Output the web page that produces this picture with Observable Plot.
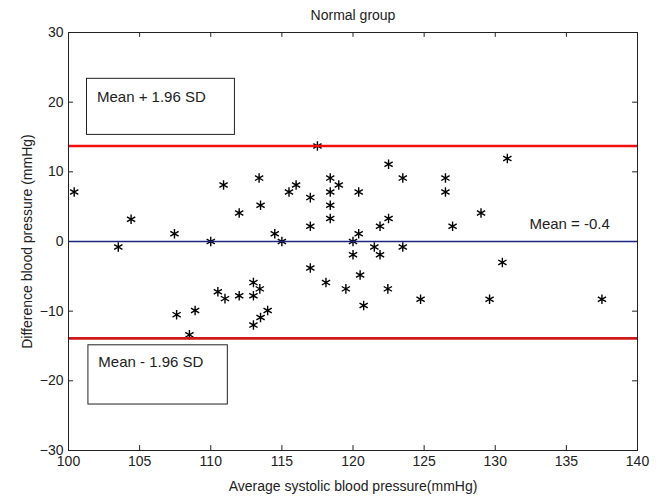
<!DOCTYPE html>
<html><head><meta charset="utf-8">
<script src="https://cdn.jsdelivr.net/npm/d3@7"></script>
<script src="https://cdn.jsdelivr.net/npm/@observablehq/plot@0.6"></script>
<style>body{margin:0;background:#fff;font-family:"Liberation Sans",Arial,sans-serif}</style>
</head><body><div id="chart"></div>
<script>
// Average systolic blood pressure (mmHg)
const avgSBP = [100.4,103.5,104.4,107.45,107.6,108.5,108.9,110,110.5,110.9,111,112,112,113,113,113,113.4,113.5,113.45,113.5,114,114.5,115,115.5,116,117,117,117,117.5,118.1,118.4,118.4,118.4,118.4,119,119.5,120,120,120.4,120.4,120.5,120.75,121.5,121.9,121.9,122.5,122.5,122.45,123.5,123.5,124.75,126.5,126.5,127,129,129.6,130.5,130.85,137.5];
// Difference blood pressure (mmHg)
const diffBP = [7.1,-0.8,3.2,1.1,-10.5,-13.4,-9.9,0,-7.2,8.1,-8.2,4.1,-7.8,-5.9,-7.8,-12,9.1,5.2,-6.8,-10.9,-9.9,1.1,0,7.1,8.1,6.3,2.2,-3.8,13.7,-5.9,9.1,7.1,5.2,3.3,8.1,-6.8,0,-1.9,7.1,1.1,-4.8,-9.2,-0.8,2.2,-1.9,11.1,3.3,-6.8,9.1,-0.8,-8.3,9.1,7.1,2.2,4.1,-8.3,-3,11.9,-8.3];
const xTicks = [100,105,110,115,120,125,130,135,140];
const yTicks = [-30,-20,-10,0,10,20,30];
const upperLimit = 13.7;
const lowerLimit = -13.9;
const meanLine = 0;
const titleText = "Normal group";
const xLabel = "Average systolic blood pressure(mmHg)";
const yLabel = "Difference blood pressure (mmHg)";
const upperLabel = {text: "Mean + 1.96 SD", x: 102.0, y: 20.7, x1: 101.3, x2: 111.7, y1: 15.3, y2: 23.35};
const lowerLabel = {text: "Mean - 1.96 SD", x: 102.1, y: -17.3, x1: 101.4, x2: 111.2, y1: -23.4, y2: -14.9};
const meanLabel = {text: "Mean = -0.4", x: 132.4, y: 2.5};

const points = avgSBP.map((a, i) => ({a, d: diffBP[i]}));
const ink = "#222";

const chart = Plot.plot({
  width: 662, height: 496,
  marginLeft: 68, marginRight: 25, marginTop: 32, marginBottom: 46,
  style: {fontFamily: "Liberation Sans, Arial, sans-serif", background: "#fff", color: ink},
  x: {domain: [100, 140]},
  y: {domain: [-30, 30]},
  marks: [
    Plot.axisX(xTicks, {tickSize: 0, tickPadding: 6, fontSize: 14, label: xLabel, labelAnchor: "center", labelOffset: 40, labelArrow: "none"}),
    Plot.axisY(yTicks, {tickSize: 0, tickPadding: 5, fontSize: 14, label: yLabel, labelAnchor: "center", labelOffset: 46, labelArrow: "none"}),
    Plot.ruleX(xTicks, {x: d => d, y1: -30, y2: -29.3, stroke: ink}),
    Plot.ruleX(xTicks, {x: d => d, y1: 30, y2: 29.3, stroke: ink}),
    Plot.ruleY(yTicks, {y: d => d, x1: 100, x2: 100.35, stroke: ink}),
    Plot.ruleY(yTicks, {y: d => d, x1: 140, x2: 139.65, stroke: ink}),
    Plot.rect([upperLabel, lowerLabel], {x1: "x1", x2: "x2", y1: "y1", y2: "y2", fill: "white", stroke: ink, strokeWidth: 1}),
    Plot.text([upperLabel, lowerLabel], {x: "x", y: "y", text: "text", textAnchor: "start", fontSize: 15, fill: ink}),
    Plot.text([meanLabel], {x: "x", y: "y", text: "text", textAnchor: "start", fontSize: 15, fill: ink, letterSpacing: "0.5px"}),
    Plot.dot(points, {x: "a", y: "d", symbol: "asterisk", r: 4.5, stroke: "black", strokeWidth: 1.4}),
    Plot.ruleY([upperLimit], {stroke: "#f01010", strokeWidth: 2.6}),
    Plot.ruleY([lowerLimit], {stroke: "#cc1a1a", strokeWidth: 2.6}),
    Plot.ruleY([meanLine], {stroke: "#1a2680", strokeWidth: 1.3}),
    Plot.frame({stroke: ink, strokeWidth: 1}),
    Plot.text([titleText], {frameAnchor: "top", dy: -22, fontSize: 14, fill: ink})
  ]
});
document.getElementById("chart").appendChild(chart);
</script>
</body></html>
